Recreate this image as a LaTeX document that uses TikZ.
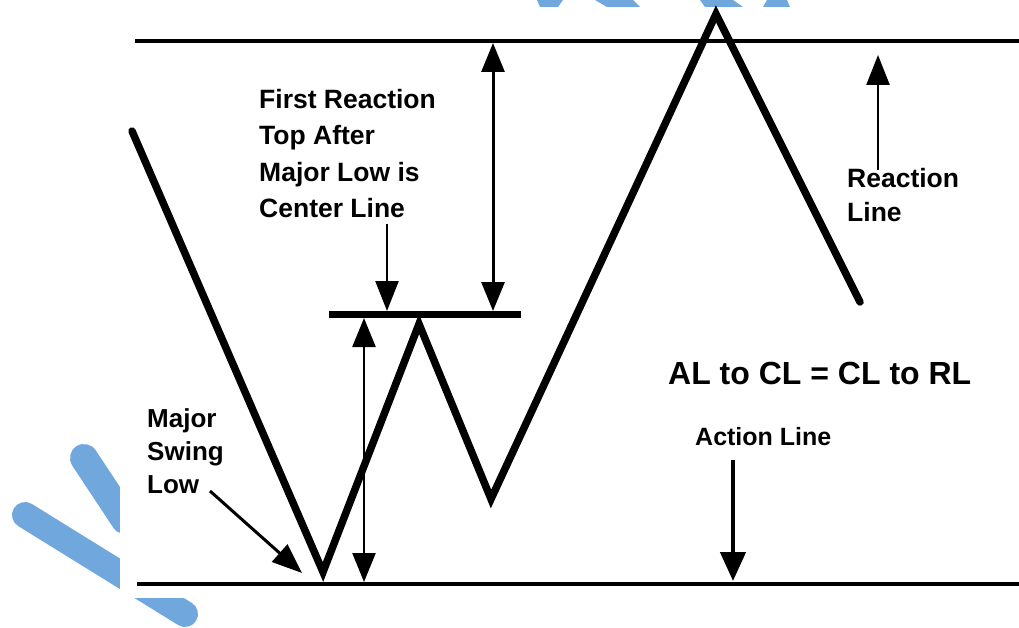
\documentclass[tikz,border=0pt]{standalone}
\usepackage{fontspec}
\setmainfont{Liberation Sans}
\usetikzlibrary{arrows.meta}
\definecolor{wm}{RGB}{112,168,222}
\begin{document}
\begin{tikzpicture}[x=1pt,y=-1pt,
  lbl/.style={inner sep=0pt, align=left, anchor=north west},
  zig/.style={line width=7.5pt, line join=miter, line cap=round},
  hline/.style={line width=3.5pt},
  cline/.style={line width=7pt},
  tip/.style={-{Triangle[length=30pt,width=23pt]}},
  arr/.style={line width=2.5pt, tip},
  darr/.style={line width=2.5pt, {Triangle[length=29pt,width=23pt]}-{Triangle[length=29pt,width=23pt]}},
  wmstripe/.style={draw=wm, line cap=round}]
\useasboundingbox (0,0) rectangle (1019,628);
% watermark pieces
\draw[wmstripe, line width=28pt] (84,458) -- (125,520);
\draw[wmstripe, line width=26pt] (25,515) -- (185,614);
\fill[wm] (537,0) -- (563,0) -- (558,7) -- (540,7) -- cycle;
\fill[wm] (595,0) -- (633,0) -- (640,7) -- (607,7) -- cycle;
\fill[wm] (700,0) -- (733,0) -- (743,7) -- (705,7) -- cycle;
\fill[wm] (767,0) -- (787,0) -- (790,7) -- (763,7) -- cycle;
\fill[white] (120,8) rectangle (1019,598);
% horizontal lines
\coordinate (rl0) at (135,41); \coordinate (rl1) at (1019,41);
\coordinate (al0) at (137,584); \coordinate (al1) at (1019,584);
\coordinate (cl0) at (329,314); \coordinate (cl1) at (521,314);
\draw[hline] (rl0) -- (rl1);
\draw[hline] (al0) -- (al1);
\draw[cline] (cl0) -- (cl1);
% zigzag price path
\coordinate (p0) at (132,131);
\coordinate (p1) at (323,572);
\coordinate (p2) at (419,324);
\coordinate (p3) at (491,499);
\coordinate (p4) at (716,14);
\coordinate (p5) at (860,302);
\draw[zig] (p0) -- (p1) -- (p2) -- (p3) -- (p4) -- (p5);
% labels
\node[lbl, font=\bfseries\fontsize{26.5}{36.5}\selectfont] (frt) at (259,89) {First Reaction\\Top After\\Major Low is\\Center Line};
\node[lbl, font=\bfseries\fontsize{26.5}{34}\selectfont] (rct) at (847,168) {Reaction\\Line};
\node[lbl, font=\bfseries\fontsize{26}{33}\selectfont] (msl) at (147,408) {Major\\Swing\\Low};
\node[lbl, font=\bfseries\fontsize{25}{30}\selectfont] (act) at (695,427) {Action Line};
\node[lbl, font=\bfseries\fontsize{32}{38}\selectfont] (eq) at (668,362) {AL to CL = CL to RL};
% arrows
\coordinate (a1s) at (387,224); \coordinate (a1e) at (387,311);
\draw[arr] (a1s) -- (a1e);
\coordinate (a2s) at (493,311); \coordinate (a2e) at (493,43);
\draw[darr, line width=3pt] (a2s) -- (a2e);
\coordinate (a3s) at (364,318); \coordinate (a3e) at (364,582);
\draw[darr] (a3s) -- (a3e);
\coordinate (a4s) at (878,170); \coordinate (a4e) at (878,55);
\draw[arr] (a4s) -- (a4e);
\coordinate (a5s) at (733,460); \coordinate (a5e) at (733,581);
\draw[arr, line width=4.5pt, -{Triangle[length=29pt,width=25pt]}] (a5s) -- (a5e);
\coordinate (a6s) at (210,491); \coordinate (a6e) at (302,573);
\draw[arr, line width=3pt] (a6s) -- (a6e);
\end{tikzpicture}
\end{document}
